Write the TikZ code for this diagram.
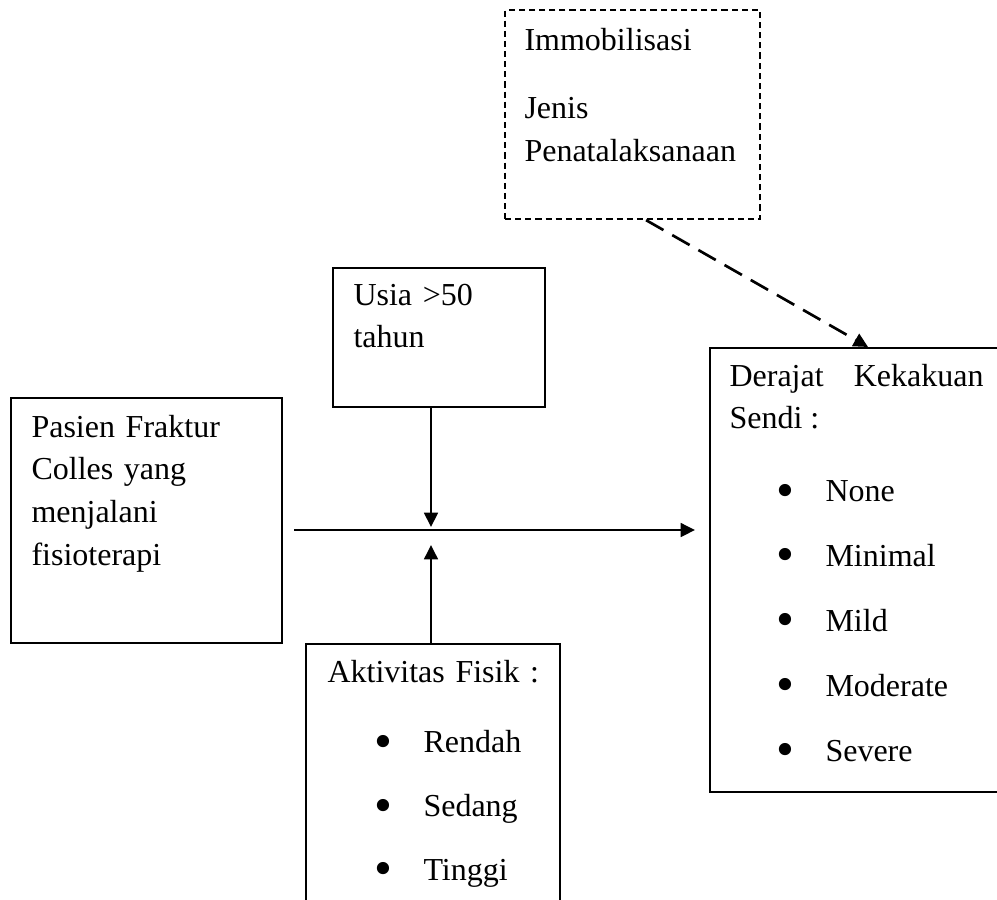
\documentclass[tikz,border=0pt]{standalone}
\usepackage{fontspec}
\setmainfont{Liberation Serif}
\usetikzlibrary{arrows.meta}
\newdimen\pxu
\pxu=0.375pt
\tikzset{
	kotak/.style={draw,line width=0.8pt,inner sep=0pt,anchor=north west},
	isi/.style={anchor=base west,inner sep=0pt,font=\fontsize{12}{16.1}\selectfont},
	panah/.style={-{Triangle[length=5.4pt,width=5.2pt]},line width=0.8pt},
}
\begin{document}
\begin{tikzpicture}[x=0.375pt,y=-0.375pt]
\useasboundingbox (0,0) rectangle (997,899);
\clip (0,0) rectangle (997,899);
\def\poin#1{\hspace*{47\pxu}\makebox[49\pxu][l]{\raisebox{-0.35ex}{\scalebox{1.6}{\textbullet}}}#1}
\node[kotak,dash pattern=on 2.3pt off 1.5pt,minimum width=255\pxu,minimum height=209\pxu] (immo) at (504,9) {};
\node[kotak,minimum width=212\pxu,minimum height=139\pxu] (usia) at (332,267) {};
\node[kotak,minimum width=271\pxu,minimum height=245\pxu] (pasien) at (10,397) {};
\node[kotak,minimum width=254\pxu,minimum height=277\pxu] (aktivitas) at (305,643) {};
\node[kotak,minimum width=301\pxu,minimum height=444\pxu] (derajat) at (709,347) {};
\node[isi,text width=230\pxu,align=left] (immoteks) at (524,50) {Immobilisasi\\[26\pxu]Jenis\\Penatalaksanaan};
\node[isi,text width=180\pxu,align=left] (usiateks) at (353,305) {Usia >50\\tahun};
\node[isi,text width=240\pxu,align=left] (pasienteks) at (31,437) {Pasien Fraktur\\Colles yang\\menjalani\\fisioterapi};
\node[isi,text width=225\pxu,align=left] (aktivitasteks) at (327,682) {Aktivitas Fisik :\\[28\pxu]\poin{Rendah}\\[21\pxu]\poin{Sedang}\\[21\pxu]\poin{Tinggi}};
\node[isi,text width=254\pxu,align=justify] (derajatteks) at (729,386) {Derajat Kekakuan\linebreak Sendi :\\[30\pxu]\poin{None}\\[22\pxu]\poin{Minimal}\\[22\pxu]\poin{Mild}\\[22\pxu]\poin{Moderate}\\[22\pxu]\poin{Severe}};
\coordinate (j) at (431,530);
\draw[panah,shorten <=11\pxu,shorten >=14\pxu] (pasien.east |- j) -- (derajat.west |- j);
\draw[panah,shorten >=3\pxu] (usia.south -| j) -- (j);
\draw[panah,shorten >=15\pxu] (aktivitas.north -| j) -- (j);
\draw[panah,line width=1pt,dash pattern=on 7.5pt off 3.8pt] ([xshift=13.5\pxu]immo.south) -- ([xshift=7.5\pxu]derajat.north);
\end{tikzpicture}
\end{document}
